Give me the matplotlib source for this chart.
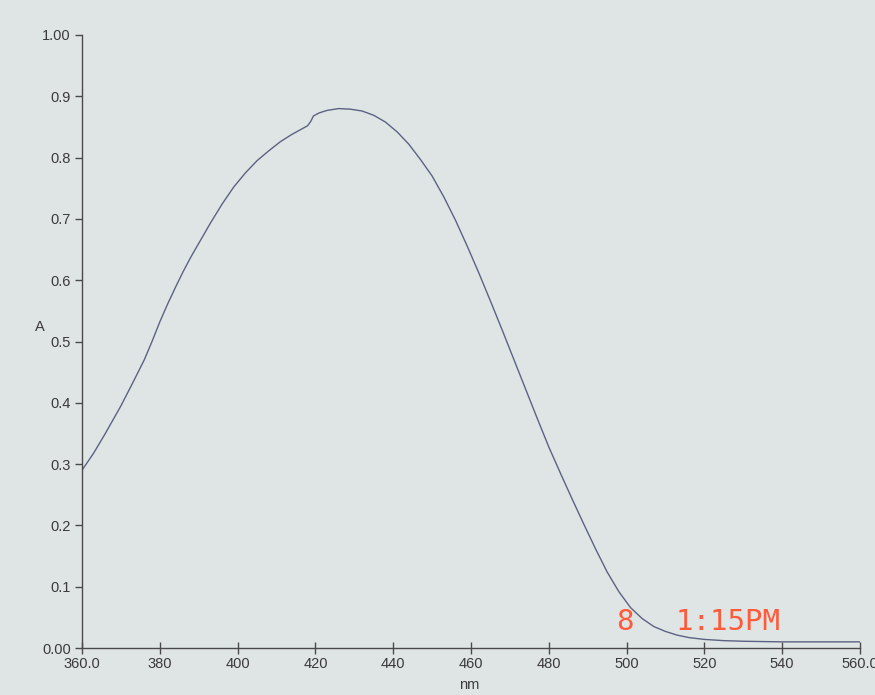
import matplotlib
matplotlib.use("Agg")
import matplotlib.pyplot as plt

wavelength_nm = [360, 363, 366, 370, 373, 376, 378, 380, 382, 384, 386, 388, 390,
                 393, 396, 399, 402, 405, 408, 411, 414, 416, 418, 418.8, 419.5,
                 421, 423, 426, 429, 432, 435, 438, 441, 444, 447, 450, 453, 456,
                 459, 462, 465, 468, 471, 474, 477, 480, 483, 486, 489, 492, 495,
                 498, 501, 504, 507, 510, 513, 516, 520, 525, 530, 540, 550, 560]
absorbance = [0.290, 0.318, 0.350, 0.395, 0.432, 0.470, 0.500, 0.532, 0.561, 0.588,
              0.614, 0.638, 0.660, 0.693, 0.724, 0.752, 0.775, 0.795, 0.811, 0.826,
              0.838, 0.845, 0.852, 0.859, 0.868, 0.873, 0.877, 0.880, 0.879, 0.876,
              0.869, 0.858, 0.842, 0.822, 0.797, 0.770, 0.736, 0.698, 0.656, 0.612,
              0.566, 0.519, 0.471, 0.423, 0.375, 0.328, 0.285, 0.243, 0.202, 0.162,
              0.124, 0.092, 0.066, 0.048, 0.035, 0.027, 0.021, 0.017, 0.014, 0.012,
              0.011, 0.010, 0.010, 0.010]

x_ticks = [360, 380, 400, 420, 440, 460, 480, 500, 520, 540, 560]
x_tick_labels = ["360.0", "380", "400", "420", "440", "460", "480", "500", "520", "540", "560.0"]
y_ticks = [0.0, 0.1, 0.2, 0.3, 0.4, 0.5, 0.6, 0.7, 0.8, 0.9, 1.0]
y_tick_labels = ["0.00", "0.1", "0.2", "0.3", "0.4", "0.5", "0.6", "0.7", "0.8", "0.9", "1.00"]

paper = "#dfe5e5"
ink = "#3a3a3a"

fig = plt.figure(figsize=(8.75, 6.95), dpi=100, facecolor=paper)
ax = fig.add_axes([82 / 875, 1 - 648 / 695, (860 - 82) / 875, (648 - 35) / 695])
ax.set_facecolor(paper)

ax.plot(wavelength_nm, absorbance, color="#5c6282", linewidth=1.0)

ax.set_xlim(360, 560)
ax.set_ylim(0, 1.0)
ax.set_xticks(x_ticks)
ax.set_xticklabels(x_tick_labels)
ax.set_yticks(y_ticks)
ax.set_yticklabels(y_tick_labels)

for s in ("top", "right"):
    ax.spines[s].set_visible(False)
for s in ("left", "bottom"):
    ax.spines[s].set_color("#4a4a4a")
    ax.spines[s].set_linewidth(1.0)

ax.tick_params(axis="x", direction="inout", length=9, width=1.0, color="#4a4a4a",
               labelsize=10.5, labelcolor=ink, pad=2)
ax.tick_params(axis="y", direction="out", length=5, width=1.0, color="#4a4a4a",
               labelsize=10.5, labelcolor=ink, pad=3)
for lbl in ax.get_xticklabels() + ax.get_yticklabels():
    lbl.set_fontfamily("Liberation Sans")

fig.text(40 / 875, 1 - 327 / 695, "A", fontsize=10.5, color=ink,
         family="Liberation Sans", ha="center", va="center")
fig.text(469 / 875, 1 - 685 / 695, "nm", fontsize=10.5, color=ink,
         family="Liberation Sans", ha="center", va="center")

fig.text(625 / 875, 1 - 622 / 695, "8", fontsize=21, color="#ff5a3a",
         family="DejaVu Sans Mono", ha="center", va="center")
fig.text(728 / 875, 1 - 622 / 695, "1:15PM", fontsize=21, color="#ff5a3a",
         family="DejaVu Sans Mono", ha="center", va="center")

fig.savefig("out.png", dpi=100, facecolor=paper)
